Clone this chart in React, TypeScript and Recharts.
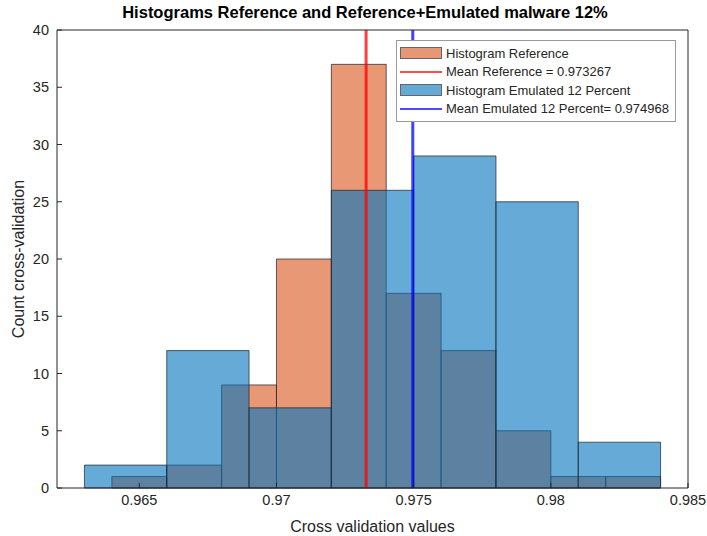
import {
  ComposedChart,
  XAxis,
  YAxis,
  ReferenceArea,
  ReferenceLine,
  Label,
} from "recharts";

// bin edges and counts of the two histograms
const refEdges = [0.964, 0.966, 0.968, 0.97, 0.972, 0.974, 0.976, 0.978, 0.98, 0.982, 0.984];
const refCounts = [1, 2, 9, 20, 37, 17, 12, 5, 1, 1];
const emuEdges = [0.963, 0.966, 0.969, 0.972, 0.975, 0.978, 0.981, 0.984];
const emuCounts = [2, 12, 7, 26, 29, 25, 4];

const meanRef = 0.973267;
const meanEmu = 0.974968;

const xTicks = [0.965, 0.97, 0.975, 0.98, 0.985];
const yTicks = [0, 5, 10, 15, 20, 25, 30, 35, 40];

const legendItems = [
  { label: "Histogram Reference", kind: "patch", color: "#d95319" },
  { label: "Mean Reference = 0.973267", kind: "line", color: "#ff0000" },
  { label: "Histogram Emulated 12 Percent", kind: "patch", color: "#0072bd" },
  { label: "Mean Emulated 12 Percent= 0.974968", kind: "line", color: "#0000ff" },
];

const FONT = "'Liberation Sans', Arial, Helvetica, sans-serif";
const AXIS = "#262626";
const EDGE = "#1e2630";

const bins = (edges: number[], counts: number[]) =>
  counts.map((c, i) => ({ x1: edges[i], x2: edges[i + 1], y: c }));

const HistLegend = () => (
  <div
    style={{
      position: "absolute",
      top: 40,
      left: 396,
      border: "1px solid #9a9a9a",
      background: "#fff",
      padding: "3px 6px 3px 3px",
      fontFamily: FONT,
      fontSize: 13,
      color: "#262626",
    }}
  >
    {legendItems.map((it) => (
      <div key={it.label} style={{ display: "flex", alignItems: "center", height: 18.5 }}>
        {it.kind === "patch" ? (
          <span
            style={{
              width: 42,
              height: 12,
              background: it.color,
              opacity: 0.6,
              border: "1px solid #000",
              boxSizing: "border-box",
            }}
          />
        ) : (
          <span style={{ width: 42, height: 2.5, background: it.color, opacity: 0.7 }} />
        )}
        <span style={{ marginLeft: 4, whiteSpace: "nowrap" }}>{it.label}</span>
      </div>
    ))}
  </div>
);

export default function App() {
  return (
    <div style={{ position: "absolute", left: 0, top: 0, width: 707, height: 536, background: "#fff" }}>
      <div
        style={{
          position: "absolute",
          top: 3,
          left: 0,
          width: 730,
          textAlign: "center",
          fontFamily: FONT,
          fontWeight: "bold",
          fontSize: 16.5,
          color: "#000",
        }}
      >
        Histograms Reference and Reference+Emulated malware 12%
      </div>
      <ComposedChart width={707} height={536} margin={{ top: 29, right: 18, left: 0, bottom: 0 }}>
        <XAxis
          type="number"
          dataKey="x"
          domain={[0.962, 0.985]}
          ticks={xTicks}
          height={48}
          tickSize={-5}
          tickMargin={12}
          stroke={AXIS}
          tick={{ fill: AXIS, fontSize: 14.5, fontFamily: FONT }}
          allowDataOverflow
        >
          <Label
            value="Cross validation values"
            position="insideBottom"
            offset={4}
            style={{ fill: AXIS, fontSize: 16, fontFamily: FONT }}
          />
        </XAxis>
        <XAxis
          xAxisId="top"
          orientation="top"
          type="number"
          domain={[0.962, 0.985]}
          ticks={xTicks}
          height={1}
          tickSize={-5}
          tick={false}
          stroke={AXIS}
          allowDataOverflow
        />
        <YAxis
          type="number"
          domain={[0, 40]}
          ticks={yTicks}
          width={57}
          tickSize={-5}
          tickMargin={13}
          stroke={AXIS}
          tick={{ fill: AXIS, fontSize: 14.5, fontFamily: FONT }}
          allowDataOverflow
        >
          <Label
            value="Count cross-validation"
            angle={-90}
            position="insideLeft"
            offset={18}
            style={{ fill: AXIS, fontSize: 16, fontFamily: FONT, textAnchor: "middle" }}
          />
        </YAxis>
        <YAxis
          yAxisId="right"
          orientation="right"
          type="number"
          domain={[0, 40]}
          ticks={yTicks}
          width={1}
          tickSize={-5}
          tick={false}
          stroke={AXIS}
          allowDataOverflow
        />

        {bins(refEdges, refCounts).map((b) => (
          <ReferenceArea
            key={`r${b.x1}`}
            x1={b.x1}
            x2={b.x2}
            y1={0}
            y2={b.y}
            fill="#d95319"
            fillOpacity={0.6}
            stroke={EDGE}
            strokeWidth={0.8}
            strokeOpacity={0.9}
          />
        ))}
        {bins(emuEdges, emuCounts).map((b) => (
          <ReferenceArea
            key={`e${b.x1}`}
            x1={b.x1}
            x2={b.x2}
            y1={0}
            y2={b.y}
            fill="#0072bd"
            fillOpacity={0.6}
            stroke={EDGE}
            strokeWidth={0.8}
            strokeOpacity={0.9}
          />
        ))}

        <ReferenceLine x={meanRef} stroke="#ff0000" strokeWidth={3} strokeOpacity={0.75} />
        <ReferenceLine x={meanEmu} stroke="#0000ff" strokeWidth={3} strokeOpacity={0.75} />
      </ComposedChart>
      <HistLegend />
    </div>
  );
}
